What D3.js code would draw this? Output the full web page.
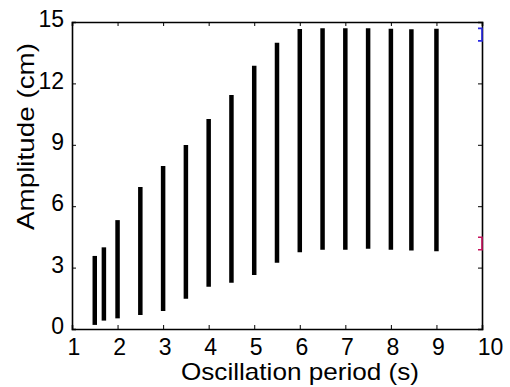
<!DOCTYPE html>
<html><head><meta charset="utf-8">
<script src="https://cdn.jsdelivr.net/npm/d3@7"></script>
<style>
html,body{margin:0;padding:0;background:#fff;}
svg{display:block;}
text{font-family:"Liberation Sans",Arial,Helvetica,sans-serif;fill:#000;}
</style></head>
<body>
<script>
const periods = [1.5, 1.7, 2, 2.5, 3, 3.5, 4, 4.5, 5, 5.5, 6, 6.5, 7, 7.5, 8, 8.45, 9];
const ampMin  = [0.2, 0.41, 0.52, 0.68, 0.88, 1.48, 2.07, 2.26, 2.64, 3.24, 3.75, 3.87, 3.87, 3.92, 3.87, 3.84, 3.8];
const ampMax  = [3.57, 3.99, 5.32, 6.94, 7.96, 8.99, 10.26, 11.43, 12.86, 13.99, 14.66, 14.69, 14.69, 14.7, 14.67, 14.64, 14.67];
const xTicks = [1, 2, 3, 4, 5, 6, 7, 8, 9, 10];
const yTicks = [0, 3, 6, 9, 12, 15];
const markerX = [10, 10];
const markerLow = [14.08, 3.87];
const markerHigh = [14.69, 4.48];
const markerColors = ["#2a2ae6", "#c8145f"];
const xTitle = "Oscillation period (s)";
const yTitle = "Amplitude (cm)";

const W = 510, H = 387;
const L = 72, R = 482, T = 22, B = 329;
const svg = d3.select("body").append("svg").attr("width", W).attr("height", H);
const x = d3.scaleLinear().domain([1, 10]).range([L, R]);
const y = d3.scaleLinear().domain([0, 15]).range([B, T]);

// bars
svg.append("g").selectAll("line").data(periods).join("line")
  .attr("x1", d => x(d)).attr("x2", d => x(d))
  .attr("y1", (d, i) => y(ampMin[i])).attr("y2", (d, i) => y(ampMax[i]))
  .attr("stroke", "#000").attr("stroke-width", 4.5);

// axes (box with inward ticks)
const tl = 4;
const fs = 23;
const xb = svg.append("g").attr("transform", `translate(0,${B})`)
  .call(d3.axisBottom(x).tickValues(xTicks).tickSize(-tl).tickPadding(9).tickFormat(d3.format("d")));
const xt = svg.append("g").attr("transform", `translate(0,${T})`)
  .call(d3.axisTop(x).tickValues(xTicks).tickSize(-tl).tickFormat(""));
const yl = svg.append("g").attr("transform", `translate(${L},0)`)
  .call(d3.axisLeft(y).tickValues(yTicks).tickSize(-tl).tickPadding(8).tickFormat(d3.format("d")));
const yr = svg.append("g").attr("transform", `translate(${R},0)`)
  .call(d3.axisRight(y).tickValues(yTicks).tickSize(-tl).tickFormat(""));
[xb, xt, yl, yr].forEach(g => {
  g.select(".domain").attr("stroke", "#000").attr("stroke-width", 1.6);
  g.selectAll(".tick line").attr("stroke", "#000").attr("stroke-width", 1);
  g.selectAll(".tick text").attr("font-size", fs).attr("font-family", "Liberation Sans, Arial, sans-serif").attr("fill", "#000");
});
xb.selectAll(".tick text").attr("dy", "0.72em").attr("dx", 1.5);
xb.selectAll(".tick").filter(d => d === 10).select("text").attr("dx", 8);
yl.selectAll(".tick text").attr("dy", "0.2em");

// right-edge range markers
markerX.forEach((mx, i) => {
  const px = x(mx), y1 = y(markerHigh[i]), y2 = y(markerLow[i]);
  svg.append("path")
    .attr("d", `M${px - 4},${y1}H${px}V${y2}H${px - 4}`)
    .attr("fill", "none").attr("stroke", markerColors[i]).attr("stroke-width", 1.6);
});

// titles
svg.append("text").attr("x", 300).attr("y", 379.5).attr("text-anchor", "middle")
  .attr("font-size", 24).attr("textLength", 238).attr("lengthAdjust", "spacingAndGlyphs").text(xTitle);
svg.append("text").attr("transform", "translate(33.5,136.5) rotate(-90)").attr("text-anchor", "middle")
  .attr("font-size", 24).attr("textLength", 187).attr("lengthAdjust", "spacingAndGlyphs").text(yTitle);
</script>
</body></html>
